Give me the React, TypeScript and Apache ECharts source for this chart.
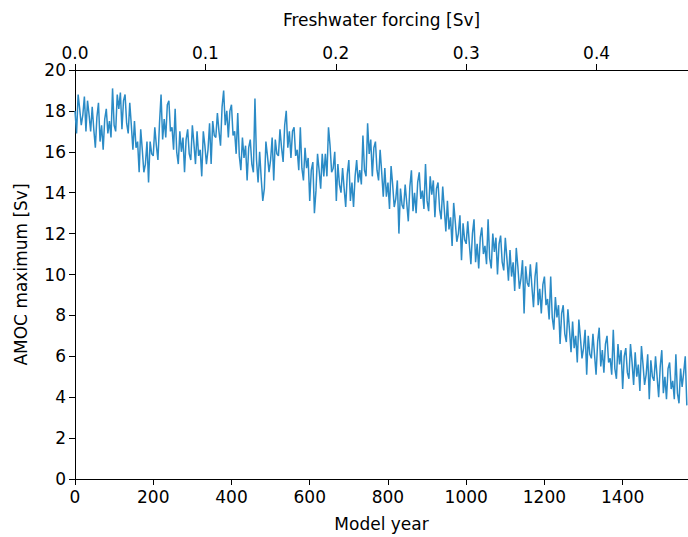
import React, { useEffect, useRef } from "react";
import * as echarts from "echarts";

// AMOC maximum [Sv], sampled every 4 model years from year 0
const AMOC: number[] = [
  18.0, 16.9, 18.8, 18.1, 17.3, 17.8, 18.7, 17.0, 18.5, 17.8,
  17.0, 18.2, 17.1, 16.2, 17.7, 18.4, 16.5, 17.3, 16.1, 17.6,
  18.1, 16.9, 17.5, 16.7, 19.1, 17.3, 17.0, 18.8, 18.1, 18.9,
  17.1, 18.5, 18.8, 17.4, 16.9, 18.4, 17.3, 16.1, 17.5, 16.2,
  16.5, 15.0, 17.1, 16.1, 15.0, 15.4, 16.5, 14.5, 16.5, 15.9,
  15.8, 17.2, 16.3, 15.6, 17.4, 18.8, 16.6, 17.6, 16.7, 18.3,
  18.5, 17.0, 17.2, 16.1, 18.1, 16.0, 15.4, 17.0, 16.0, 16.7,
  15.0, 16.6, 17.1, 15.9, 15.6, 17.3, 16.4, 15.4, 17.0, 15.8,
  16.1, 14.8, 17.0, 16.3, 15.4, 16.1, 17.4, 15.4, 17.5, 16.8,
  16.7, 17.9, 17.0, 16.3, 18.2, 19.0, 17.3, 18.0, 16.7, 18.0,
  18.3, 16.8, 17.0, 15.9, 17.9, 15.8, 15.1, 16.7, 15.7, 16.3,
  14.6, 16.2, 16.6, 15.4, 15.0, 18.6, 15.6, 14.5, 16.0, 14.7,
  13.6, 14.2, 16.5, 15.8, 15.0, 15.6, 16.7, 14.6, 16.6, 15.9,
  15.8, 17.1, 16.2, 15.5, 17.3, 18.0, 16.2, 17.0, 15.7, 17.0,
  17.2, 15.8, 16.1, 15.1, 17.2, 15.2, 14.6, 16.2, 15.2, 15.7,
  13.6, 15.1, 15.5, 13.0, 14.1, 15.9, 15.1, 14.2, 15.9, 14.8,
  15.9, 14.8, 17.2, 16.3, 15.0, 15.2, 16.0, 13.6, 15.4, 14.4,
  14.0, 15.2, 14.2, 13.3, 14.9, 15.6, 13.6, 14.5, 13.3, 14.8,
  15.6, 14.5, 15.1, 14.4, 16.8, 15.1, 14.8, 17.4, 15.9, 16.6,
  14.8, 16.2, 16.5, 15.1, 14.6, 16.1, 15.0, 13.8, 15.2, 13.8,
  14.5, 13.2, 15.3, 14.4, 13.3, 13.7, 14.6, 12.0, 14.2, 13.4,
  13.2, 14.4, 13.5, 12.6, 14.3, 15.1, 13.1, 14.0, 13.0, 14.5,
  15.0, 13.7, 14.1, 13.2, 15.4, 13.6, 13.1, 14.8, 13.9, 14.6,
  12.8, 14.2, 14.5, 13.2, 12.7, 14.3, 13.2, 12.1, 13.6, 12.2,
  12.8, 11.4, 13.5, 12.6, 11.6, 12.0, 12.9, 10.7, 12.5, 11.7,
  11.5, 12.6, 11.5, 10.5, 12.0, 12.7, 10.6, 11.5, 10.3, 11.8,
  12.3, 11.0, 11.4, 10.5, 12.7, 10.8, 10.3, 12.0, 11.1, 11.8,
  10.0, 11.5, 11.9, 10.6, 10.2, 11.8, 10.8, 9.7, 11.2, 9.9,
  10.6, 9.2, 11.3, 10.4, 9.3, 9.8, 10.7, 8.1, 10.4, 9.6,
  9.4, 10.5, 9.4, 8.4, 9.9, 10.6, 8.5, 9.3, 8.1, 9.5,
  9.9, 8.5, 8.8, 7.8, 9.9, 7.9, 7.3, 8.9, 7.9, 8.5,
  6.6, 8.1, 8.5, 7.1, 6.7, 8.3, 7.3, 6.2, 7.7, 6.4,
  7.0, 5.7, 7.8, 6.9, 5.9, 6.4, 7.3, 5.1, 7.0, 6.1,
  5.9, 7.1, 6.1, 5.1, 6.7, 7.4, 5.5, 6.3, 5.2, 6.6,
  7.0, 5.7, 5.9, 5.1, 7.3, 5.4, 4.9, 6.6, 5.6, 6.3,
  4.4, 6.0, 6.4, 5.2, 4.9, 6.6, 5.7, 4.6, 6.2, 5.0,
  5.6, 4.3, 6.5, 5.6, 4.6, 5.1, 6.1, 3.9, 5.8, 5.0,
  4.8, 6.0, 5.0, 4.0, 5.5, 6.3, 4.2, 5.0, 3.9, 5.4,
  5.7, 4.4, 4.8, 3.9, 6.1, 4.2, 3.7, 5.4, 4.5, 5.2,
  6.0, 3.6,
];
const YEAR_STEP = 4;
const YEARS: number[] = AMOC.map((_, i) => i * YEAR_STEP);

const YEAR_MAX = 1567;
const SV_PER_YEAR = 0.0003;

const FONT = "DejaVu Sans";
const FS = 17;

export default function App() {
  const ref = useRef<HTMLDivElement>(null);
  useEffect(() => {
    if (!ref.current) return;
    const chart = echarts.init(ref.current, undefined, { renderer: "svg" });
    const axisLine = { show: true, lineStyle: { color: "#000", width: 1 } };
    const axisTick = { show: true, inside: false, length: 6, lineStyle: { color: "#000", width: 1 } };
    chart.setOption({
      animation: false,
      backgroundColor: "#fff",
      textStyle: { fontFamily: FONT },
      grid: { left: 75, right: 0, top: 70, bottom: 57, show: false },
      xAxis: [
        {
          type: "value",
          position: "bottom",
          min: 0,
          max: YEAR_MAX,
          interval: 200,
          name: "Model year",
          nameLocation: "middle",
          nameGap: 36,
          nameTextStyle: { fontFamily: FONT, fontSize: FS, color: "#000" },
          axisLine,
          axisTick,
          splitLine: { show: false },
          axisLabel: {
            fontFamily: FONT,
            fontSize: FS,
            color: "#000",
            margin: 9,
            showMaxLabel: false,
            formatter: (v: number) => String(v),
          },
        },
        {
          type: "value",
          position: "top",
          min: 0,
          max: YEAR_MAX * SV_PER_YEAR,
          interval: 0.1,
          name: "Freshwater forcing [Sv]",
          nameLocation: "middle",
          nameGap: 42,
          nameTextStyle: { fontFamily: FONT, fontSize: FS, color: "#000" },
          axisLine,
          axisTick,
          splitLine: { show: false },
          axisLabel: {
            fontFamily: FONT,
            fontSize: FS,
            color: "#000",
            margin: 9,
            showMaxLabel: false,
            formatter: (v: number) => v.toFixed(1),
          },
        },
      ],
      yAxis: {
        type: "value",
        min: 0,
        max: 20,
        interval: 2,
        name: "AMOC maximum [Sv]",
        nameLocation: "middle",
        nameRotate: 90,
        nameGap: 46,
        nameTextStyle: { fontFamily: FONT, fontSize: FS, color: "#000" },
        axisLine,
        axisTick,
        splitLine: { show: false },
        axisLabel: { fontFamily: FONT, fontSize: FS, color: "#000", margin: 9 },
      },
      series: [
        {
          type: "line",
          xAxisIndex: 0,
          yAxisIndex: 0,
          data: YEARS.map((y, i) => [y, AMOC[i]]),
          showSymbol: false,
          symbol: "none",
          lineStyle: { color: "#2b8bc6", width: 1.5 },
          clip: true,
        },
      ],
    });
    return () => chart.dispose();
  }, []);
  return (
    <div
      ref={ref}
      style={{ position: "fixed", left: 0, top: 0, width: 688, height: 537, background: "#fff" }}
    />
  );
}
